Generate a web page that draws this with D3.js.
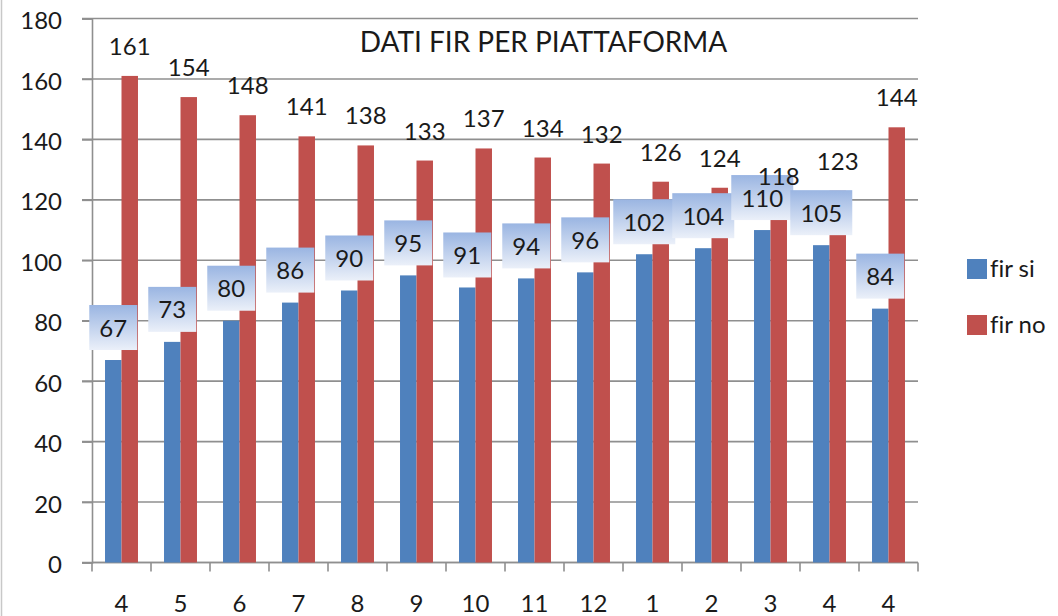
<!DOCTYPE html>
<html>
<head>
<meta charset="utf-8">
<script src="https://cdnjs.cloudflare.com/ajax/libs/d3/7.8.5/d3.min.js"></script>
<style>
  html, body { margin: 0; padding: 0; background: #fff; }
  svg text { font-family: Lato, "Open Sans", sans-serif; fill: #1a1a1a; font-variant-ligatures: none; font-feature-settings: "liga" 0; }
</style>
</head>
<body>
<div id="chart"></div>
<script>
(() => {

    // data
    var months = ["4", "5", "6", "7", "8", "9", "10", "11", "12", "1", "2", "3", "4", "4"];
    var firSi = [67, 73, 80, 86, 90, 95, 91, 94, 96, 102, 104, 110, 105, 84];
    var firNo = [161, 154, 148, 141, 138, 133, 137, 134, 132, 126, 124, 118, 123, 144];
    var yTicks = [0, 20, 40, 60, 80, 100, 120, 140, 160, 180];
    var seriesNames = ["fir si", "fir no"];
    var seriesColors = ["#4f81bd", "#c0504d"];

    var W = 1058, H = 616;
    var margin = { top: 18.5, right: 140, bottom: 53.5, left: 92 },
        width = W - margin.left - margin.right,
        height = H - margin.top - margin.bottom;

    var root = d3.select("#chart")
        .append("svg")
        .attr("width", W)
        .attr("height", H);

    root.append("rect").attr("width", W).attr("height", H).attr("fill", "#fff");
    // chart area border on the left
    root.append("line")
        .attr("x1", 1.5).attr("x2", 1.5).attr("y1", 0).attr("y2", H)
        .attr("stroke", "#c8c8c8").attr("stroke-width", 1.5);

    var defs = root.append("defs");
    var grad = defs.append("linearGradient")
        .attr("id", "lblgrad")
        .attr("x1", 0).attr("y1", 0).attr("x2", 0).attr("y2", 1);
    grad.append("stop").attr("offset", "0%").attr("stop-color", "#9ab5e2");
    grad.append("stop").attr("offset", "100%").attr("stop-color", "#ebf0f9");

    var svg = root.append("g")
        .attr("transform", "translate(" + margin.left + "," + margin.top + ")");

    var rows = months.map(function (m, i) {
        return { idx: i, month: m, values: [firSi[i], firNo[i]] };
    });

    // X axis (index domain because month labels repeat)
    var x = d3.scaleBand()
        .domain(rows.map(function (d) { return d.idx; }))
        .range([0, width])
        .padding(0);

    var x1 = d3.scaleBand()
        .domain([0, 1])
        .range([0, x.bandwidth()])
        .paddingInner(0)
        .paddingOuter(0.79);

    var y = d3.scaleLinear()
        .domain([0, 180])
        .range([height, 0]);

    // gridlines
    svg.append("g")
        .selectAll("line")
        .data(yTicks)
        .enter()
        .append("line")
        .attr("x1", -10)
        .attr("x2", width)
        .attr("y1", function (d) { return y(d); })
        .attr("y2", function (d) { return y(d); })
        .attr("stroke", "#8f8f8f")
        .attr("stroke-width", 1.6);

    // y axis
    var yAxis = svg.append("g")
        .call(d3.axisLeft(y).tickValues(yTicks).tickSize(10).tickPadding(20));
    yAxis.select(".domain").attr("stroke", "#8f8f8f").attr("stroke-width", 1.6);
    yAxis.selectAll(".tick line").attr("stroke", "#8f8f8f").attr("stroke-width", 1.6);
    yAxis.selectAll("text")
        .style("font-size", "24px")
        .attr("dy", "0.42em");

    // x axis: ticks on category boundaries
    var xAxis = svg.append("g")
        .attr("transform", "translate(0," + height + ")")
        .call(d3.axisBottom(x).tickSize(0).tickPadding(32)
            .tickFormat(function (i) { return months[i]; }));
    xAxis.select(".domain").remove();
    xAxis.selectAll("text").style("font-size", "24px");

    var bounds = d3.range(months.length + 1).map(function (i) { return i * x.step(); });
    svg.append("g")
        .selectAll("line")
        .data(bounds)
        .enter()
        .append("line")
        .attr("x1", function (d) { return d; })
        .attr("x2", function (d) { return d; })
        .attr("y1", height)
        .attr("y2", height + 9)
        .attr("stroke", "#8f8f8f")
        .attr("stroke-width", 1.6);
    svg.append("line")
        .attr("x1", 0).attr("x2", width)
        .attr("y1", height).attr("y2", height)
        .attr("stroke", "#8f8f8f").attr("stroke-width", 1.6);

    // bars
    var groups = svg.selectAll("g.cat")
        .data(rows)
        .enter()
        .append("g")
        .attr("class", "cat")
        .attr("transform", function (d) { return "translate(" + x(d.idx) + ",0)"; });

    groups.selectAll("rect.bar")
        .data(function (d) { return d.values.map(function (v, s) { return { s: s, v: v }; }); })
        .enter()
        .append("rect")
        .attr("class", "bar")
        .attr("x", function (d) { return x1(d.s); })
        .attr("y", function (d) { return y(d.v); })
        .attr("width", x1.bandwidth())
        .attr("height", function (d) { return height - y(d.v); })
        .style("fill", function (d) { return seriesColors[d.s]; });

    // label boxes for fir si
    var boxH = 45, boxGap = 10;
    function boxW(v) { return String(v).length === 3 ? 62 : 48; }

    groups.append("rect")
        .attr("x", function (d) { return x1(0) + x1.bandwidth() / 2 - boxW(d.values[0]) / 2; })
        .attr("y", function (d) { return y(d.values[0]) - boxGap - boxH; })
        .attr("width", function (d) { return boxW(d.values[0]); })
        .attr("height", boxH)
        .style("fill", "url(#lblgrad)");

    // labels for fir no
    groups.append("text")
        .attr("x", function (d) { return x1(1) + x1.bandwidth() / 2; })
        .attr("y", function (d) { return y(d.values[1]) - 21; })
        .attr("text-anchor", "middle")
        .style("font-size", "24px")
        .text(function (d) { return d.values[1]; });

    // labels for fir si
    groups.append("text")
        .attr("x", function (d) { return x1(0) + x1.bandwidth() / 2; })
        .attr("y", function (d) { return y(d.values[0]) - boxGap - boxH / 2 + 9; })
        .attr("text-anchor", "middle")
        .style("font-size", "24px")
        .text(function (d) { return d.values[0]; });

    // title
    root.append("text")
        .attr("x", 543.5)
        .attr("y", 52)
        .attr("text-anchor", "middle")
        .style("font-size", "28px")
        .text("DATI FIR PER PIATTAFORMA");

    // legend
    var legend = root.append("g")
        .selectAll("g")
        .data(seriesNames)
        .enter()
        .append("g")
        .attr("transform", function (d, i) { return "translate(967," + (259 + i * 56) + ")"; });
    legend.append("rect")
        .attr("width", 20).attr("height", 20)
        .style("fill", function (d, i) { return seriesColors[i]; });
    legend.append("text")
        .attr("x", 23).attr("y", 18)
        .style("font-size", "24px")
        .text(function (d) { return d; });

})();
</script>
</body>
</html>
